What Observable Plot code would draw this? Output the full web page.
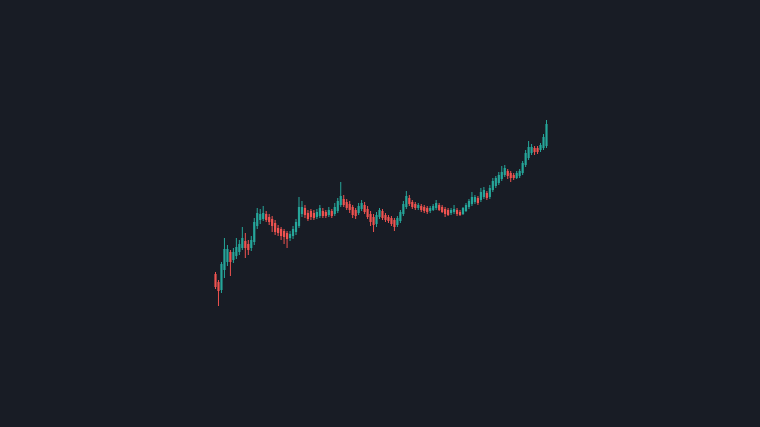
<!DOCTYPE html>
<html>
<head>
<meta charset="utf-8">
<script src="https://cdn.jsdelivr.net/npm/d3@7"></script>
<script src="https://cdn.jsdelivr.net/npm/@observablehq/plot@0.6"></script>
<style>
  html, body { margin: 0; padding: 0; background: #181c25; overflow: hidden; }
  #chart svg { display: block; }
</style>
</head>
<body>
<div id="chart"></div>
<script>
const open  = [126,118,110,130,138,148,140,144,148,152,159,156,152,158,174,180,181,186,183,181,177,172,171,169,167,162,164,168,174,186,192,187,189,187,183,184,189,188,185,189,186,189,195,201,198,196,193,190,187,191,195,191,186,183,176,183,189,185,183,182,180,175,179,186,193,202,198,196,192,194,193,192,189,190,192,195,193,191,190,187,188,190,188,186,189,193,196,198,202,200,203,207,203,210,214,217,221,225,229,227,225,222,224,227,235,242,247,252,252,250,252,254];
const close = [113,109,136,151,151,138,148,153,156,162,152,150,160,178,187,186,187,180,178,174,168,167,164,163,161,166,171,178,193,193,185,181,183,182,188,192,184,184,190,184,193,199,204,195,192,190,185,184,194,197,188,183,178,175,185,190,182,180,179,176,173,182,188,196,204,196,193,192,195,190,189,188,192,194,197,190,188,186,185,190,191,186,185,192,195,199,203,203,197,208,210,202,212,219,222,225,228,232,224,222,222,227,229,237,247,253,253,248,248,255,263,276];
const high  = [128,120,138,162,155,150,152,162,160,173,167,160,164,182,192,191,194,189,186,184,180,175,173,171,169,169,174,181,203,199,195,190,191,190,191,195,192,190,193,191,197,202,218,205,201,199,195,192,197,200,198,194,189,186,188,192,191,187,185,184,182,184,190,199,209,205,200,198,197,196,195,194,194,196,200,197,195,193,192,192,195,192,190,193,197,201,208,205,204,212,213,209,215,222,224,228,234,235,231,229,227,229,231,239,250,259,256,254,254,257,266,280];
const low   = [111, 94,107,122,134,124,137,141,145,150,142,145,149,155,171,176,179,178,175,168,165,164,160,156,152,159,161,165,172,183,182,179,180,180,181,182,182,182,183,182,184,187,193,193,190,187,182,181,185,189,186,181,174,168,173,181,180,178,177,174,169,173,177,184,191,194,191,190,190,188,187,186,187,189,190,189,187,183,184,185,186,184,184,185,188,191,194,196,195,198,201,200,201,208,212,215,219,223,221,218,220,221,222,225,233,240,245,245,246,248,250,252];

const up = "#26a69a";
const down = "#ef5350";

const data = open.map((o, i) => ({
  i, open: o, close: close[i], high: high[i], low: low[i],
  color: close[i] >= o ? up : down
}));

const chart = Plot.plot({
  width: 760,
  height: 427,
  marginLeft: 215,
  marginRight: 214,
  marginTop: 0,
  marginBottom: 27,
  style: { background: "#181c25" },
  x: { domain: [0, data.length - 1], axis: null },
  y: { domain: [0, 400], axis: null },
  marks: [
    Plot.ruleX(data, { x: "i", y1: "low", y2: "high", stroke: "color", strokeWidth: 1 }),
    Plot.ruleX(data, { x: "i", y1: "open", y2: "close", stroke: "color", strokeWidth: 2.2 })
  ]
});
document.getElementById("chart").appendChild(chart);
</script>
</body>
</html>
